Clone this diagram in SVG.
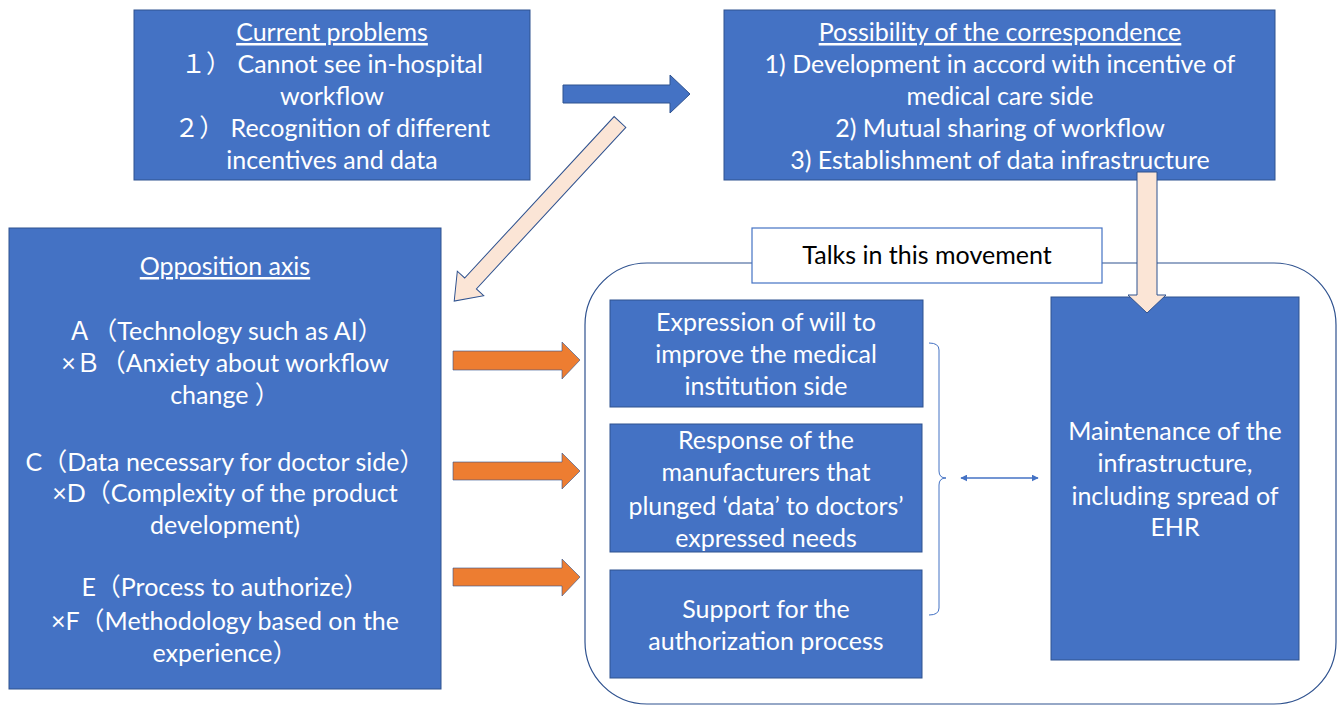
<svg xmlns="http://www.w3.org/2000/svg" width="1341" height="708" viewBox="0 0 1341 708">
<defs>
<style>
.box{fill:#4472C4;stroke:#2F528F;stroke-width:1}
.t{font-family:Lato,"Noto Sans CJK JP",sans-serif;font-size:25px;fill:#fff;text-anchor:middle}
.k{fill:#000}
.u{text-decoration:underline}
.peach{fill:#FBE5D6;stroke:#2F528F;stroke-width:1}
.orange{fill:#ED7D31;stroke:#2F528F;stroke-width:0.6}
.blue{fill:#4472C4;stroke:#2F528F;stroke-width:1}
</style>
<marker id="ah" viewBox="0 0 10 10" refX="9" refY="5" markerWidth="7" markerHeight="7" orient="auto-start-reverse" markerUnits="userSpaceOnUse">
<path d="M0,0 L10,5 L0,10 z" fill="#4472C4"/>
</marker>
</defs>
<rect width="1341" height="708" fill="#fff"/>

<g id="group-talks">
<rect x="585" y="263" width="751" height="441" rx="62" ry="62" fill="#fff" stroke="#2F528F" stroke-width="1.2"/>
</g>
<g id="talks-label">
<rect x="752" y="228" width="350" height="55" fill="#fff" stroke="#4472C4" stroke-width="1.2"/>
<text class="t k" x="927" y="264">Talks in this movement</text>
</g>

<g id="current-problems">
<rect class="box" x="134" y="10" width="396" height="170"/>
<text class="t" x="332" y="41"><tspan class="u">Current problems</tspan></text>
<text class="t" x="332" y="73">１） Cannot see in-hospital</text>
<text class="t" x="332" y="105">workflow</text>
<text class="t" x="332" y="137">２） Recognition of different</text>
<text class="t" x="332" y="169">incentives and data</text>
</g>

<g id="possibility">
<rect class="box" x="724" y="10" width="551" height="170"/>
<text class="t" x="1000" y="41"><tspan class="u">Possibility of the correspondence</tspan></text>
<text class="t" x="1000" y="73">1) Development in accord with incentive of</text>
<text class="t" x="1000" y="105">medical care side</text>
<text class="t" x="1000" y="137">2) Mutual sharing of workflow</text>
<text class="t" x="1000" y="169">3) Establishment of data infrastructure</text>
</g>

<g id="opposition-axis">
<rect class="box" x="9" y="228" width="432" height="461"/>
<text class="t" x="225" y="275"><tspan class="u">Opposition axis</tspan></text>
<text class="t" x="225" y="340">Ａ（Technology such as AI）</text>
<text class="t" x="225" y="372">×Ｂ（Anxiety about workflow</text>
<text class="t" x="225" y="404">change ）</text>
<text class="t" x="225" y="471">C（Data necessary for doctor side）</text>
<text class="t" x="225" y="502">×D（Complexity of the product</text>
<text class="t" x="225" y="534">development)</text>
<text class="t" x="225" y="596">E（Process to authorize）</text>
<text class="t" x="225" y="630">×F（Methodology based on the</text>
<text class="t" x="225" y="662">experience）</text>
</g>

<g id="will">
<rect class="box" x="610" y="300" width="313" height="107"/>
<text class="t" x="766" y="331">Expression of will to</text>
<text class="t" x="766" y="363">improve the medical</text>
<text class="t" x="766" y="395">institution side</text>
</g>

<g id="response">
<rect class="box" x="610" y="424" width="312" height="128"/>
<text class="t" x="766" y="449">Response of the</text>
<text class="t" x="766" y="481">manufacturers that</text>
<text class="t" x="766" y="515">plunged ‘data’ to doctors’</text>
<text class="t" x="766" y="547">expressed needs</text>
</g>

<g id="support">
<rect class="box" x="610" y="570" width="312" height="108"/>
<text class="t" x="766" y="618">Support for the</text>
<text class="t" x="766" y="650">authorization process</text>
</g>

<g id="maintenance">
<rect class="box" x="1051" y="297" width="248" height="363"/>
<text class="t" x="1175" y="440">Maintenance of the</text>
<text class="t" x="1175" y="472">infrastructure,</text>
<text class="t" x="1175" y="505">including spread of</text>
<text class="t" x="1175" y="536">EHR</text>
</g>

<g id="connectors">
<polygon class="blue" points="563,85 670,85 670,75 690,94 670,113 670,103 563,103"/>
<polygon class="peach" transform="translate(620,122) rotate(132.8)" points="0,-8 220,-8 220,-18 244,0 220,18 220,8 0,8"/>
<polygon class="peach" points="1137,172 1157,172 1157,295 1166,295 1147,313 1128,295 1137,295"/>
<polygon class="orange" points="453,351 562,351 562,342 580,360 562,379 562,370 453,370"/>
<polygon class="orange" points="453,462 562,462 562,453 580,471 562,489 562,480 453,480"/>
<polygon class="orange" points="453,568 562,568 562,559 580,577 562,596 562,586 453,586"/>
<path d="M929,343 Q939,343 939,350 L939,471 Q939,478 946,478 Q939,478 939,485 L939,608 Q939,615 929,615" fill="none" stroke="#4472C4" stroke-width="1"/>
<line x1="961" y1="478" x2="1038" y2="478" stroke="#4472C4" stroke-width="1.5" marker-start="url(#ah)" marker-end="url(#ah)"/>
</g>
</svg>
